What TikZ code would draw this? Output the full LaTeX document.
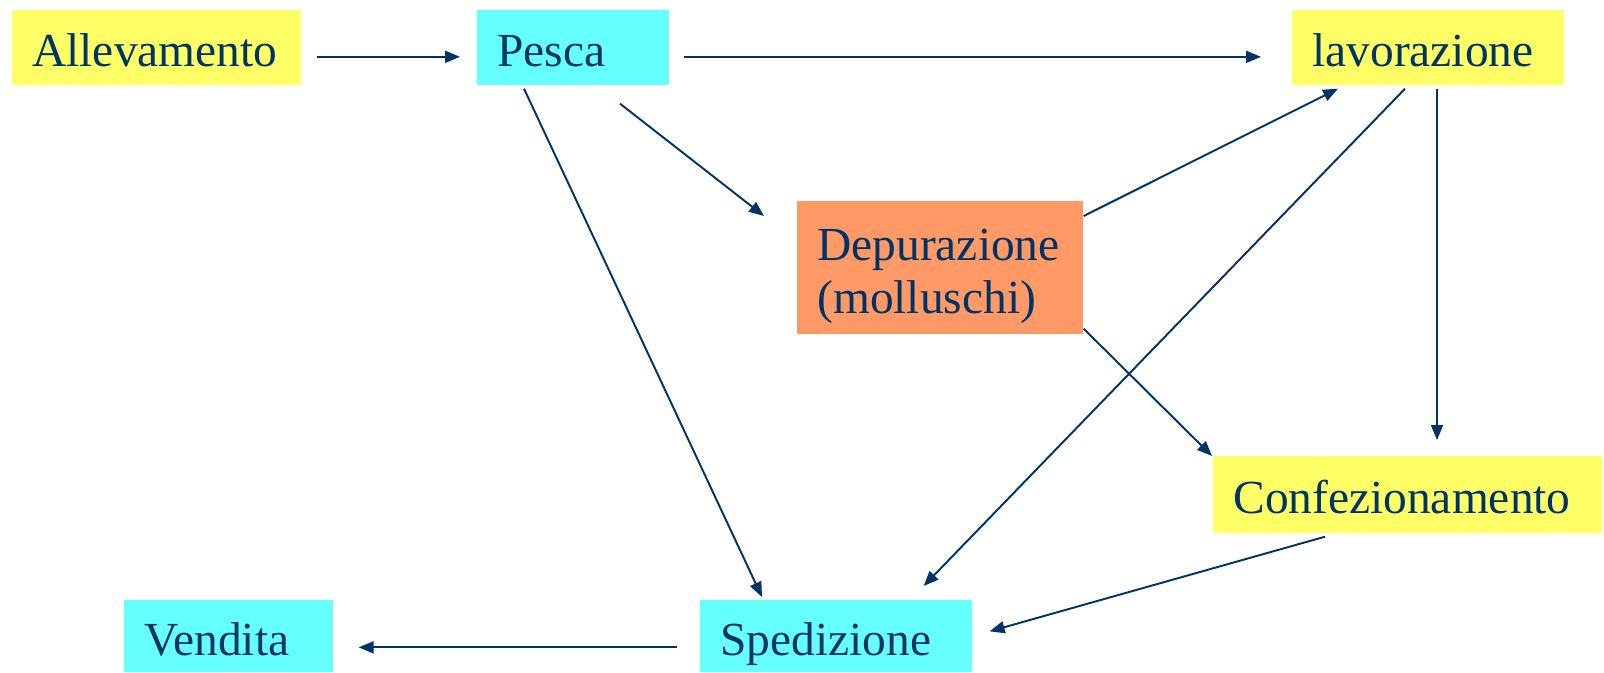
\documentclass[tikz,border=0pt]{standalone}
\usepackage{fontspec}
\setmainfont{Liberation Serif}
\usepackage{tikz}
\usetikzlibrary{arrows.meta,positioning}
\usepackage{xcolor}
\definecolor{fsnavy}{RGB}{0,51,102}
\definecolor{fsyellow}{RGB}{255,255,102}
\definecolor{fscyan}{RGB}{102,255,255}
\definecolor{fsorange}{RGB}{255,153,102}
\tikzstyle{flow} = [line width=1.1pt,-{Triangle[length=0.3cm,width=0.24cm]},color=fsnavy]
\tikzstyle{stage} = [rectangle, anchor=north west, inner xsep=0.4cm, inner ysep=0pt, align=left, text height=0.75cm, text depth=0pt, text=fsnavy, font=\fontsize{27}{30}\selectfont]
\tikzstyle{farm} = [stage, fill=fsyellow]
\tikzstyle{sea} = [stage, fill=fscyan]
\tikzstyle{clean} = [stage, fill=fsorange]

\begin{document}
\begin{tikzpicture}[x=0.02cm,y=-0.02cm]
\useasboundingbox (0,0) rectangle (1604,672);
\node[farm, text width=4.98cm, minimum height=1.5cm] (alle) at (12,10) {Allevamento};
\node[sea, text width=3.04cm, minimum height=1.5cm] (pesca) at (477,10) {Pesca};
\node[farm, text width=4.64cm, minimum height=1.5cm] (lavo) at (1292,10) {lavorazione};
\node[clean, text width=4.92cm, minimum height=2.66cm, text depth=1.05cm] (depu) at (797,201) {Depurazione\\(molluschi)};
\node[farm, text width=6.98cm, minimum height=1.54cm] (conf) at (1213,456) {Confezionamento};
\node[sea, text width=4.64cm, minimum height=1.44cm] (sped) at (700,600) {Spedizione};
\node[sea, text width=3.38cm, minimum height=1.44cm] (vend) at (124,600) {Vendita};

\draw[flow] ([shift={(15,9)}]alle.east) -- ([shift={(-17,9)}]pesca.west);
\draw[flow] ([shift={(14,9)}]pesca.east) -- ([shift={(-31,9)}]lavo.west);
\draw[flow] ([shift={(143,18)}]pesca.south west) -- ([shift={(-33,15)}]depu.north west);
\draw[flow] ([shift={(47,3)}]pesca.south west) -- ([shift={(62,-3)}]sped.north west);
\draw[flow] ([shift={(0,15)}]depu.north east) -- ([shift={(46,3)}]lavo.south west);
\draw[flow] ([shift={(113,3)}]lavo.south west) -- ([shift={(-49,-14)}]sped.north east);
\draw[flow] ([shift={(145,3)}]lavo.south west) -- ([shift={(224,-16)}]conf.north west);
\draw[flow] ([shift={(0,-6)}]depu.south east) -- ([shift={(-1,0)}]conf.north west);
\draw[flow] ([shift={(112,3)}]conf.south west) -- ([shift={(17,-5)}]sped.east);
\draw[flow] ([shift={(-23,11)}]sped.west) -- ([shift={(25,11)}]vend.east);
\end{tikzpicture}
\end{document}
